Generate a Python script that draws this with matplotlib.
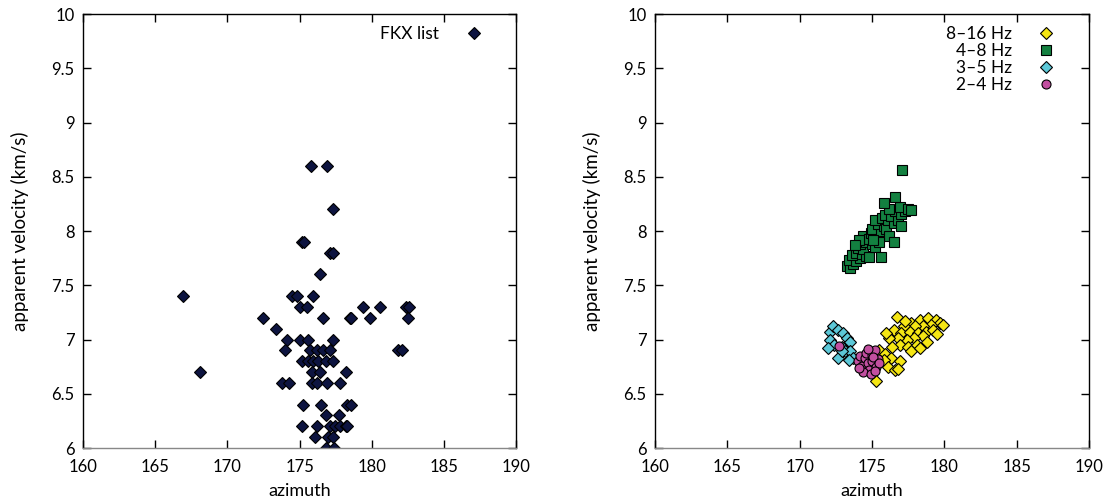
import numpy as np
import matplotlib.pyplot as plt

# left panel: FKX list (azimuth, apparent velocity)
fkx_az = [175.8, 176.9, 177.3, 175.2, 175.3, 177.1, 177.3, 176.4,
          166.9, 174.5, 174.8, 175.9,
          175.0, 175.5, 179.4, 180.6, 182.4, 182.6,
          172.5, 176.65, 178.5, 178.6, 179.9, 182.5,
          173.4,
          174.1, 175.0, 175.6, 177.3,
          174.0, 175.7, 176.2, 176.6, 177.1, 181.85, 182.1,
          175.15, 175.6, 175.96, 176.3, 176.8, 177.35,
          168.1, 175.85, 176.4, 178.2,
          173.8, 174.3, 175.85, 176.2, 176.9, 177.8,
          175.27, 176.5, 178.3, 178.6,
          176.84, 177.7,
          175.2, 176.2, 177.1, 177.45, 177.8, 178.2, 178.3,
          176.1, 177.0, 177.3,
          176.8, 177.4]
fkx_v = [8.6, 8.6, 8.2, 7.9, 7.9, 7.8, 7.8, 7.6,
         7.4, 7.4, 7.4, 7.4,
         7.3, 7.3, 7.3, 7.3, 7.3, 7.3,
         7.2, 7.2, 7.2, 7.2, 7.2, 7.2,
         7.1,
         7.0, 7.0, 7.0, 7.0,
         6.9, 6.9, 6.9, 6.9, 6.9, 6.9, 6.9,
         6.8, 6.8, 6.8, 6.8, 6.8, 6.8,
         6.7, 6.7, 6.7, 6.7,
         6.6, 6.6, 6.6, 6.6, 6.6, 6.6,
         6.4, 6.4, 6.4, 6.4,
         6.3, 6.3,
         6.2, 6.2, 6.2, 6.2, 6.2, 6.2, 6.2,
         6.1, 6.1, 6.1,
         6.0, 6.0]

# right panel: frequency bands
hz8_16_az = [176.7, 177.7, 178.3, 178.9, 179.4, 179.7, 179.1, 178.5, 178.0, 177.2,
             176.5, 177.0, 177.6, 178.2, 178.7, 179.2, 178.5, 177.9, 177.4, 176.8,
             176.2, 176.0, 176.9, 177.5, 178.1, 177.7, 175.5, 175.9, 176.3, 175.8,
             176.9, 176.1, 176.6, 176.8, 175.25, 179.9, 179.5, 178.8, 178.3, 177.3,
             176.4]
hz8_16_v = [7.21, 7.15, 7.18, 7.20, 7.18, 7.15, 7.13, 7.12, 7.12, 7.12,
            7.09, 7.06, 7.07, 7.06, 7.07, 7.09, 7.03, 7.01, 7.00, 7.01,
            7.01, 7.06, 6.95, 6.93, 6.95, 6.89, 6.90, 6.87, 6.83, 6.81,
            6.80, 6.75, 6.72, 6.73, 6.62, 7.13, 7.05, 6.98, 6.92, 7.17,
            6.93]

hz4_8_az = [173.3, 173.5, 173.7, 173.4, 173.9, 174.2, 173.6, 173.9, 174.3, 174.6,
            174.0, 174.4, 174.8, 174.2, 174.6, 175.0, 174.4, 174.8, 175.2, 175.6,
            174.9, 175.3, 175.0, 175.6, 175.4, 175.8, 176.0, 175.2, 175.7, 176.1,
            176.5, 175.9, 176.3, 176.8, 176.6, 177.0, 177.3, 176.2, 176.9, 177.5,
            177.7, 175.8, 176.6, 177.1, 176.2, 176.5, 177.0, 175.5, 174.1, 173.8,
            175.1]
hz4_8_v = [7.68, 7.66, 7.70, 7.73, 7.72, 7.75, 7.78, 7.80, 7.79, 7.77,
           7.84, 7.83, 7.76, 7.88, 7.90, 7.88, 7.95, 7.93, 7.85, 7.76,
           7.98, 7.95, 8.02, 8.00, 8.06, 8.05, 8.02, 8.10, 8.12, 8.10,
           8.07, 8.15, 8.14, 8.10, 8.18, 8.16, 8.18, 8.20, 8.22, 8.20,
           8.19, 8.26, 8.31, 8.56, 7.95, 7.90, 8.05, 7.90, 7.92, 7.87,
           7.92]

hz3_5_az = [172.1, 172.3, 172.67, 173.0, 173.25, 173.5, 172.1, 172.4, 172.9, 171.98,
            172.67, 173.1, 173.5, 173.7, 173.4, 172.9]
hz3_5_v = [7.07, 7.12, 7.09, 7.06, 7.01, 6.98, 7.00, 6.95, 6.93, 6.92,
           6.83, 6.89, 6.89, 6.83, 6.81, 6.89]

hz2_4_az = [172.7, 174.0, 174.2, 174.3, 174.5, 174.6, 174.7, 174.8, 175.0, 175.0,
            175.2, 175.3, 174.4, 174.9, 175.4, 175.1, 174.7, 175.5, 174.1, 175.2]
hz2_4_v = [6.94, 6.80, 6.85, 6.76, 6.83, 6.88, 6.78, 6.72, 6.80, 6.86,
           6.90, 6.75, 6.70, 6.68, 6.82, 6.84, 6.91, 6.78, 6.74, 6.71]

plt.rcParams['font.family'] = ['Lato', 'DejaVu Sans']
plt.rcParams['font.size'] = 12

fig = plt.figure(figsize=(11.1, 5.04), dpi=100)
ax1 = fig.add_axes([0.0748, 0.1111, 0.3901, 0.8611])
ax2 = fig.add_axes([0.5901, 0.1111, 0.391, 0.8611])


def style(ax):
    ax.set_xlim(160, 190)
    ax.set_ylim(6, 10)
    ax.set_xticks(np.arange(160, 191, 5))
    ax.set_yticks(np.arange(6, 10.01, 0.5))
    ax.set_yticklabels(['6', '6.5', '7', '7.5', '8', '8.5', '9', '9.5', '10'])
    ax.tick_params(direction='in', top=True, right=True, length=6, width=1)
    ax.tick_params(axis='x', pad=8)
    ax.tick_params(axis='y', pad=6)
    ax.set_xlabel('azimuth', fontsize=13, labelpad=6)
    ax.set_ylabel('apparent velocity (km/s)', fontsize=13.5, labelpad=16)
    for s in ax.spines.values():
        s.set_linewidth(1)
    ax.spines['bottom'].set_color('#888888')


ax1.plot(fkx_az, fkx_v, 'D', color='#0d1440', mec='black', mew=0.8, ms=6.3,
         label='FKX list')
style(ax1)
ax1.legend(loc='upper right', markerfirst=False, frameon=False, fontsize=12.5,
           borderaxespad=0.3, handletextpad=0.25, handlelength=3.5)

ax2.plot(hz8_16_az, hz8_16_v, 'D', color='#f5e614', mec='black', mew=0.8, ms=6,
         label='8\u201316 Hz')
ax2.plot(hz4_8_az, hz4_8_v, 's', color='#138040', mec='black', mew=0.8, ms=6.5,
         label='4\u20138 Hz')
ax2.plot(hz3_5_az, hz3_5_v, 'D', color='#5cc8d8', mec='black', mew=0.8, ms=5.8,
         label='3\u20135 Hz')
ax2.plot(hz2_4_az, hz2_4_v, 'o', color='#c24fa0', mec='black', mew=0.8, ms=6.5,
         label='2\u20134 Hz')
style(ax2)
ax2.legend(loc='upper right', markerfirst=False, frameon=False, fontsize=12.5,
           borderaxespad=0.3, handletextpad=0.25, handlelength=3.5,
           labelspacing=0.05)

fig.savefig('out.png', dpi=100)
